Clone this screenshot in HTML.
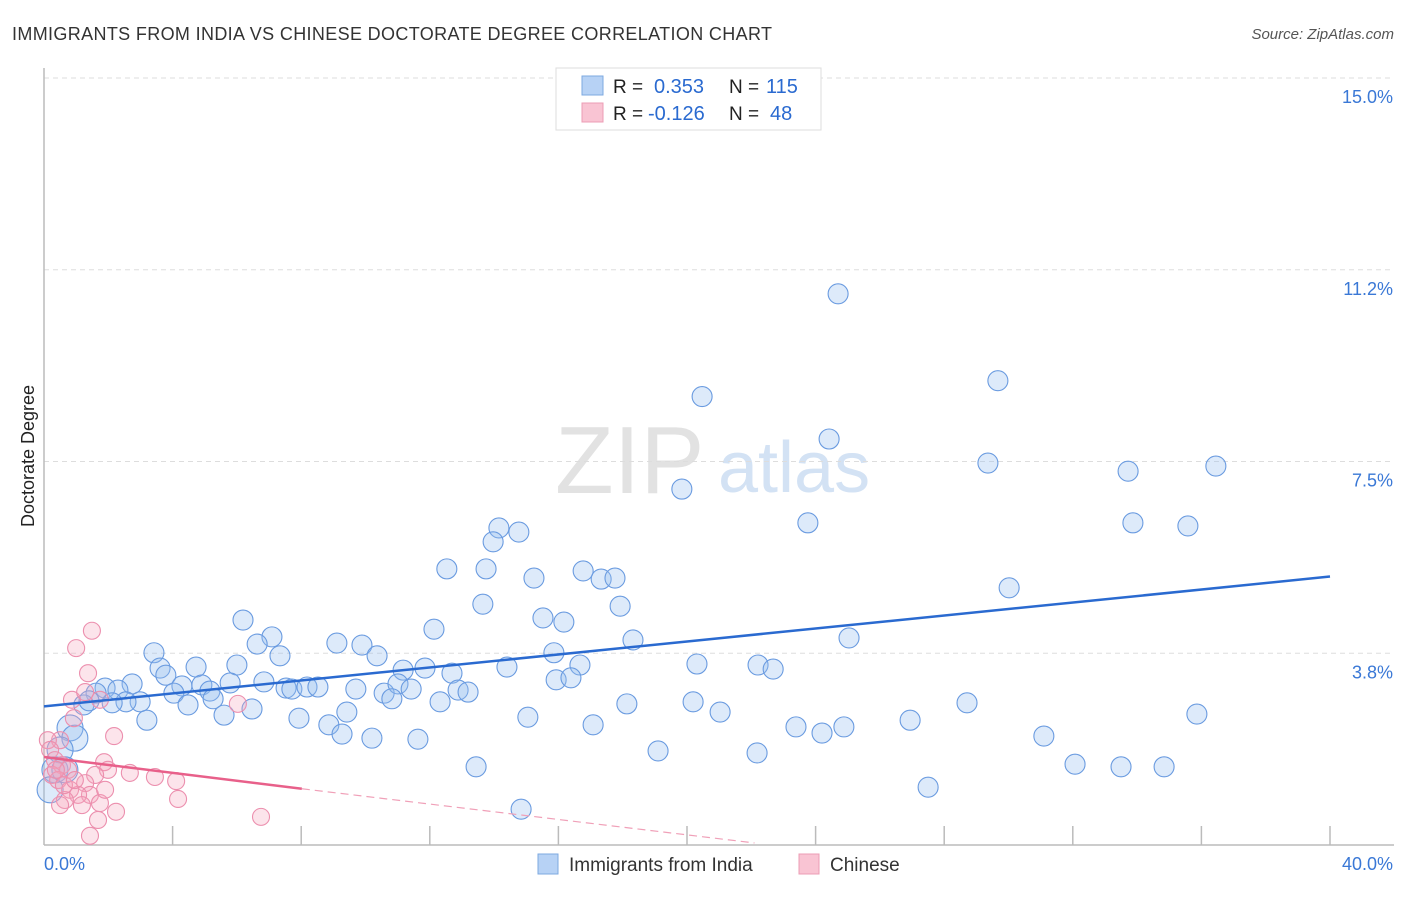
<!DOCTYPE html>
<html><head><meta charset="utf-8"><style>
body{margin:0;background:#fff;font-family:"Liberation Sans",sans-serif}
svg text{font-family:"Liberation Sans",sans-serif}
</style></head><body>
<svg id="c" width="1406" height="892" viewBox="0 0 1406 892" xmlns="http://www.w3.org/2000/svg">
<text x="12" y="40" font-size="18" fill="#333" textLength="760">IMMIGRANTS FROM INDIA VS CHINESE DOCTORATE DEGREE CORRELATION CHART</text>
<text x="1394" y="39" font-size="15" fill="#555" font-style="italic" text-anchor="end">Source: ZipAtlas.com</text>
<text x="34" y="456" font-size="18" fill="#222" text-anchor="middle" transform="rotate(-90 34 456)">Doctorate Degree</text>
<g>
<text x="555" y="493" font-size="96" fill="#e2e2e2" font-family="Liberation Serif,serif">ZIP</text>
<text x="718" y="492" font-size="72" fill="#d3e2f4">atlas</text>
</g>
<g id="grid"></g><g id="axes"></g><g id="pts"></g><g id="trend"></g>
<g>
<rect x="556" y="68" width="265" height="62" fill="#fff" stroke="#ddd"/>
<rect x="582" y="76" width="21" height="19" fill="#b7d2f5" stroke="#7ea9e0"/>
<rect x="582" y="103" width="21" height="19" fill="#f9c4d3" stroke="#ec9db5"/>
<text x="613" y="93" font-size="19" fill="#222">R = </text><text x="654" y="93" font-size="20" fill="#2a6ad0">0.353</text>
<text x="729" y="93" font-size="19" fill="#222">N = </text><text x="766" y="93" font-size="20" fill="#2a6ad0">115</text>
<text x="613" y="120" font-size="19" fill="#222">R = </text><text x="648" y="120" font-size="20" fill="#2a6ad0">-0.126</text>
<text x="729" y="120" font-size="19" fill="#222">N = </text><text x="770" y="120" font-size="20" fill="#2a6ad0">48</text>
</g>
<g>
<rect x="538" y="854" width="20" height="20" fill="#b7d2f5" stroke="#7ea9e0"/>
<text x="569" y="871" font-size="19" fill="#333">Immigrants from India</text>
<rect x="799" y="854" width="20" height="20" fill="#f9c4d3" stroke="#ec9db5"/>
<text x="830" y="871" font-size="19" fill="#333">Chinese</text>
</g>
</svg>
<script>
const yTicks=[3.75,7.5,11.25,15];
const yTickLabels=["3.8%","7.5%","11.2%","15.0%"];
const xTicks=[0,4,8,12,16,20,24,28,32,36,40];
const xEndLabels=["0.0%","40.0%"];
const indiaX=[24.70,29.67,20.47,24.42,29.36,33.72,36.45,19.84,23.76,33.87,35.58,14.15,14.77,13.97,12.53,13.75,15.24,16.77,17.33,17.76,30.02,13.65,17.92,15.52,16.17,6.19,12.13,7.09,18.32,25.04,6.63,9.11,9.89,3.42,7.34,10.36,15.86,3.61,3.79,4.73,6.00,11.17,11.85,12.69,14.40,16.67,20.31,22.21,22.68,2.74,1.90,2.30,1.62,4.29,4.91,5.79,6.84,7.53,7.71,8.18,8.52,9.70,10.58,11.01,11.42,12.88,13.19,4.04,5.16,5.26,2.99,2.55,2.12,1.24,1.40,4.48,6.47,10.82,12.32,15.93,16.39,18.13,20.19,28.71,3.20,5.60,7.93,9.42,8.86,15.05,17.08,21.03,23.39,24.20,24.88,26.94,35.86,9.27,10.20,11.63,19.10,22.18,31.10,32.07,33.50,34.84,13.44,27.50,14.84,0.81,0.96,0.50,0.34,0.19,0.65];
const indiaY=[10.78,9.08,8.77,7.94,7.47,7.31,7.41,6.96,6.30,6.30,6.24,6.20,6.12,5.93,5.40,5.40,5.22,5.36,5.20,5.22,5.03,4.71,4.67,4.44,4.36,4.40,4.22,4.07,4.01,4.05,3.93,3.95,3.91,3.76,3.70,3.70,3.76,3.46,3.32,3.48,3.52,3.42,3.46,3.36,3.48,3.52,3.54,3.52,3.44,3.15,3.07,3.03,2.97,3.11,3.13,3.17,3.19,3.07,3.05,3.09,3.09,3.05,2.97,3.15,3.05,3.03,2.99,2.97,3.01,2.86,2.80,2.80,2.78,2.74,2.82,2.74,2.66,2.86,2.80,3.23,3.27,2.76,2.80,2.78,2.44,2.54,2.48,2.60,2.35,2.50,2.35,2.60,2.31,2.19,2.31,2.44,2.56,2.17,2.09,2.07,1.84,1.80,2.13,1.58,1.53,1.53,1.53,1.13,0.70,2.29,2.09,1.86,1.47,1.08,1.47];
const chineseX=[1.49,1.00,1.37,0.87,1.28,1.74,0.93,6.03,2.18,0.50,0.12,0.19,0.34,0.56,0.75,0.25,0.44,1.87,1.99,2.67,3.45,4.11,1.59,1.28,0.81,1.43,1.06,1.74,1.18,0.65,1.90,4.17,2.24,0.50,1.68,1.43,6.75,0.37,0.62,0.96];
const chineseY=[4.19,3.85,3.36,2.84,2.99,2.84,2.48,2.76,2.13,2.05,2.05,1.86,1.66,1.56,1.47,1.37,1.27,1.62,1.47,1.41,1.33,1.25,1.37,1.21,1.08,0.98,0.98,0.82,0.78,0.88,1.08,0.90,0.65,0.78,0.49,0.18,0.55,1.47,1.17,1.27];
const indiaTrendX=[0,40];
const indiaTrendY=[2.71,5.25];
const chineseTrendX=[0,8.02,22.1];
const chineseTrendY=[1.72,1.10,0.04];

const NS="http://www.w3.org/2000/svg";
const X0=44,X1=1330,Y0=845,Y15=78;
function sx(v){return X0+(X1-X0)*v/40;}
function sy(v){return Y0-(Y0-Y15)*v/15;}
function mk(tag,attrs,parent){const e=document.createElementNS(NS,tag);for(const k in attrs)e.setAttribute(k,attrs[k]);document.getElementById(parent).appendChild(e);return e;}

yTicks.forEach((t,i)=>{
  const l=mk('line',{x1:X0,x2:1394,y1:sy(t),y2:sy(t),stroke:'#ddd','stroke-dasharray':'5,4'},'grid');
  
  
  const tx=mk('text',{x:1393,y:sy(t)+25,'font-size':18,fill:'#3a78d6','text-anchor':'end'},'axes');
  tx.textContent=yTickLabels[i];
  
  
});
const ya=mk('line',{x1:X0,x2:X0,y1:68,y2:Y0,stroke:'#bbb','stroke-width':1.5},'axes');


const xa=mk('line',{x1:X0,x2:1394,y1:Y0,y2:Y0,stroke:'#bbb','stroke-width':1.5},'axes');


xTicks.forEach(t=>{
  if(t===0)return;
  const l=mk('line',{x1:sx(t),x2:sx(t),y1:Y0-19,y2:Y0,stroke:'#bbb','stroke-width':1.5},'axes');
  
  
});
const xl0=mk('text',{x:44,y:870,'font-size':18,fill:'#3a78d6'},'axes');xl0.textContent=xEndLabels[0];


const xl1=mk('text',{x:1393,y:870,'font-size':18,fill:'#3a78d6','text-anchor':'end'},'axes');xl1.textContent=xEndLabels[1];



indiaX.forEach((v,i)=>{
  const r=(v<1.5&&indiaY[i]<2.4)?13:10;
  const c=mk('circle',{cx:sx(v),cy:sy(indiaY[i]),r:r,fill:'rgba(150,190,240,0.32)',stroke:'#6a9be0','stroke-width':1.1},'pts');
  
  
});
chineseX.forEach((v,i)=>{
  const c=mk('circle',{cx:sx(v),cy:sy(chineseY[i]),r:8.5,fill:'rgba(245,165,190,0.3)',stroke:'#ec8fae','stroke-width':1.1},'pts');
  
  
});
const bl=mk('line',{x1:sx(indiaTrendX[0]),y1:sy(indiaTrendY[0]),x2:sx(indiaTrendX[1]),y2:sy(indiaTrendY[1]),stroke:'#2a6ad0','stroke-width':2.5},'trend');


const pl=mk('line',{x1:sx(chineseTrendX[0]),y1:sy(chineseTrendY[0]),x2:sx(chineseTrendX[1]),y2:sy(chineseTrendY[1]),stroke:'#e8608a','stroke-width':2.5},'trend');


const pd=mk('line',{x1:sx(chineseTrendX[1]),y1:sy(chineseTrendY[1]),x2:sx(chineseTrendX[2]),y2:sy(chineseTrendY[2]),stroke:'#f0a0b8','stroke-width':1.2,'stroke-dasharray':'8,5'},'trend');


</script>
</body></html>
